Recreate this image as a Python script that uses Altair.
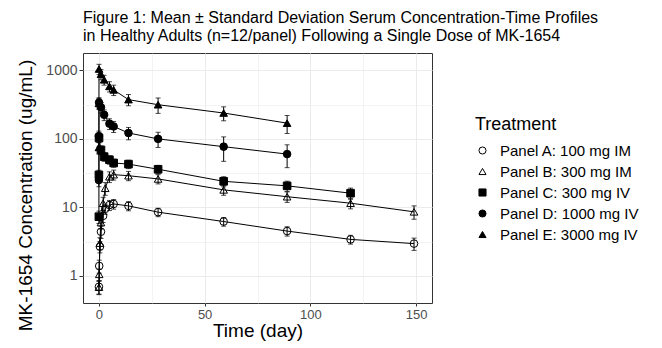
import altair as alt
import pandas as pd

treatments = ["Panel A: 100 mg IM", "Panel B: 300 mg IM", "Panel C: 300 mg IV",
              "Panel D: 1000 mg IV", "Panel E: 3000 mg IV"]

time_im = [0.04, 0.17, 0.5, 1, 2, 3, 5, 7, 14, 28, 59, 89, 119, 149]
a_mean = [0.69, 1.39, 2.66, 4.4, 7.5, 9.5, 10.8, 11.2, 10.5, 8.5, 6.2, 4.5, 3.4, 2.95]
a_sd = [0.15, 0.3, 0.5, 0.9, 1.5, 1.6, 1.8, 1.8, 1.6, 1.2, 0.9, 0.7, 0.5, 0.6]
b_mean = [0.68, 1.05, 3.0, 6.0, 11.5, 19, 28, 30, 29, 26, 18, 14.3, 11.5, 8.6]
b_sd = [0.15, 0.2, 0.6, 1.2, 2.5, 4, 5, 5, 4.5, 4, 3, 2.5, 2, 1.9]

time_c = [0.01, 0.02, 0.08, 1, 2.5, 5, 7, 14, 28, 59, 89, 119]
c_mean = [7.3, 29.8, 103, 69, 55, 49.6, 44.5, 42.8, 36, 24, 20.6, 16.1]
c_sd = [1.5, 5, 15, 10, 8, 7, 6, 6, 5, 4, 3.5, 3]

time_de = [0.01, 0.02, 0.08, 1, 2.5, 5, 7, 14, 28, 59, 89]
d_mean = [25, 110, 340, 290, 225, 167, 152, 122, 100, 77, 60]
d_sd = [5, 20, 60, 50, 40, 30, 28, 25, 25, 30, 22]
e_mean = [75, 330, 1050, 880, 730, 585, 520, 375, 316, 239, 170]
e_sd = [15, 60, 180, 150, 120, 100, 90, 70, 80, 55, 50]

series = [
    (treatments[0], time_im, a_mean, a_sd),
    (treatments[1], time_im, b_mean, b_sd),
    (treatments[2], time_c, c_mean, c_sd),
    (treatments[3], time_de, d_mean, d_sd),
    (treatments[4], time_de, e_mean, e_sd),
]
rows = []
for name, ts, ms, ss in series:
    for t, m, s in zip(ts, ms, ss):
        rows.append({"treatment": name, "time": t, "conc": m, "lo": m - s, "hi": m + s})
df = pd.DataFrame(rows)

FONT = "Liberation Sans"

xscale = alt.Scale(domain=[-7.5, 157.5], nice=False, zero=False)
xaxis = alt.Axis(
    title="Time (day)",
    values=[0, 25, 50, 75, 100, 125, 150],
    labelExpr="datum.value % 50 === 0 ? datum.label : ''",
    tickOpacity={"condition": {"test": "datum.value % 50 === 0", "value": 1}, "value": 0},
    gridWidth={"condition": {"test": "datum.value % 50 === 0", "value": 1}, "value": 0.6},
    titlePadding=0, labelFontSize=13, tickSize=3,
)
yscale = alt.Scale(type="log", domain=[0.4, 1800], nice=False)
major_test = "indexof([1,10,100,1000], datum.value) >= 0"
yaxis = alt.Axis(
    title="MK-1654 Concentration (ug/mL)",
    values=[1, 3.1623, 10, 31.623, 100, 316.23, 1000],
    format="d",
    labelExpr=major_test + " ? datum.label : ''",
    tickOpacity={"condition": {"test": major_test, "value": 1}, "value": 0},
    gridWidth={"condition": {"test": major_test, "value": 1}, "value": 0.6},
    titlePadding=10, titleY=142,
)

X = alt.X("time:Q", scale=xscale, axis=xaxis)
base = alt.Chart(df)

lines = base.mark_line(color="black", strokeWidth=1).encode(
    x=X, y=alt.Y("conc:Q", scale=yscale, axis=yaxis),
    detail="treatment:N", order="time:Q")
rules = base.mark_rule(color="black", strokeWidth=1).encode(
    x=X, y=alt.Y("lo:Q", scale=yscale, axis=yaxis), y2="hi:Q")
cap_lo = base.mark_tick(orient="horizontal", color="black", size=5, thickness=1).encode(
    x=X, y=alt.Y("lo:Q", scale=yscale, axis=yaxis))
cap_hi = base.mark_tick(orient="horizontal", color="black", size=5, thickness=1).encode(
    x=X, y=alt.Y("hi:Q", scale=yscale, axis=yaxis))

legend = alt.Legend(title="Treatment", orient="none", legendX=392, legendY=63)
points = base.mark_point(size=58, strokeWidth=1, opacity=1, fillOpacity=1).encode(
    x=X, y=alt.Y("conc:Q", scale=yscale, axis=yaxis),
    shape=alt.Shape("treatment:N", scale=alt.Scale(
        domain=treatments,
        range=["circle", "triangle-up", "square", "circle", "triangle-up"]), legend=legend),
    fill=alt.Fill("treatment:N", scale=alt.Scale(
        domain=treatments,
        range=["transparent", "transparent", "black", "black", "black"]), legend=legend),
    stroke=alt.Stroke("treatment:N", scale=alt.Scale(
        domain=treatments,
        range=["black", "black", "black", "black", "black"]), legend=legend),
)

chart = alt.layer(lines, rules, cap_lo, cap_hi, points).properties(
    width=349, height=250,
    title=alt.TitleParams(
        text=["Figure 1: Mean \u00b1 Standard Deviation Serum Concentration-Time Profiles",
              "in Healthy Adults (n=12/panel) Following a Single Dose of MK-1654"],
        anchor="start", frame="group", font=FONT, fontSize=16, fontWeight="normal",
        color="black", lineHeight=18, offset=9),
    padding={"left": 75, "top": 45, "right": 222, "bottom": 40},
    autosize="none",
).configure_view(stroke="#333333", strokeWidth=1).configure_axis(
    domain=False, labelFont=FONT, titleFont=FONT, labelFontSize=14, labelColor="#4d4d4d",
    titleFontSize=19, titleFontWeight="normal", titleColor="black",
    tickColor="#333333", tickSize=4, labelPadding=2, gridColor="#ebebeb",
).configure_legend(
    titleFont=FONT, labelFont=FONT, titleFontSize=18, titleFontWeight="normal",
    titleColor="black", labelFontSize=15, labelColor="black",
    symbolStrokeColor="black", symbolStrokeWidth=1, symbolSize=50,
    rowPadding=5, titlePadding=9, labelOffset=10,
)

chart.save("out.html", embed_options={"renderer": "svg", "actions": False})
